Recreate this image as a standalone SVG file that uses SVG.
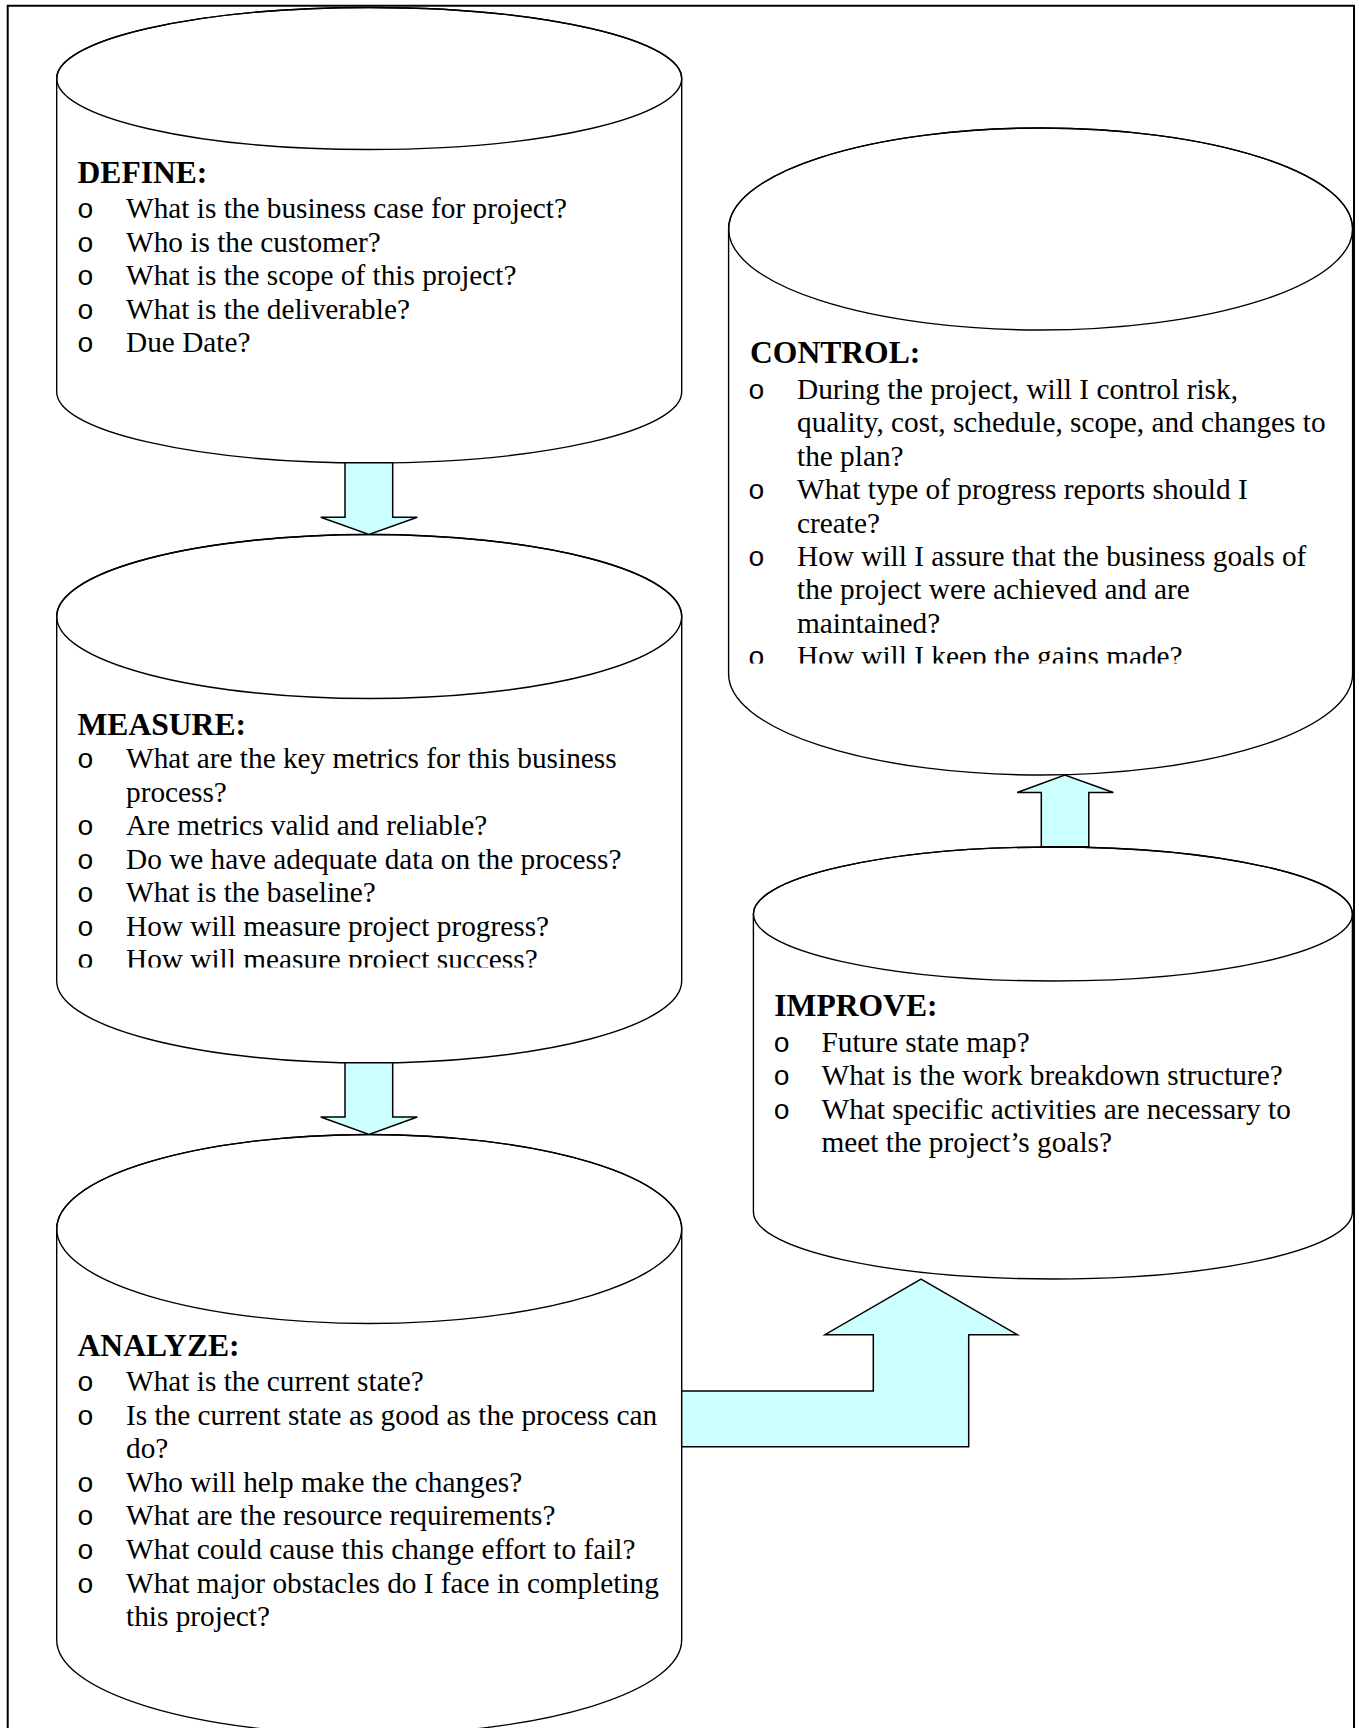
<svg xmlns="http://www.w3.org/2000/svg" width="1359" height="1728" viewBox="0 0 1359 1728">
  <style>
    .frame { fill: none; stroke: #000; stroke-width: 2; }
    .cyl { fill: #fff; stroke: #000; stroke-width: 1.4; }
    .lid { fill: none; stroke: #000; stroke-width: 1.4; }
    .arrow { fill: #ccffff; stroke: #000; stroke-width: 1.5; stroke-linejoin: miter; }
    .h { font-family: "Liberation Serif", "Times New Roman", serif; font-weight: bold; font-size: 31.6px; fill: #000; }
    .t { font-family: "Liberation Serif", "Times New Roman", serif; font-size: 29.3px; fill: #000; }
    .o { font-family: "Liberation Mono", "Courier New", monospace; font-size: 28px; fill: #000; }
  </style>
  <defs>
    <clipPath id="clipMeasure"><rect x="60" y="700" width="620" height="267.5"/></clipPath>
    <clipPath id="clipControl"><rect x="732" y="330" width="618" height="333.5"/></clipPath>
  </defs>

  <rect x="0" y="0" width="1359" height="1728" fill="#fff"/>
  <path class="frame" d="M7.7 1728 V5.7 H1354 V1728"/>

  <!-- DEFINE -->
  <g id="define">
    <path class="cyl" d="M56.7 78.5 L56.7 392 A312.5 71 0 0 0 681.7 392 L681.7 78.5 A312.5 71 0 0 0 56.7 78.5 Z"/>
    <ellipse class="lid" cx="369.2" cy="78.5" rx="312.5" ry="71"/>
    <text class="h" x="77.5" y="183">DEFINE:</text>
    <text class="o" x="77" y="218">o</text><text class="t" x="126" y="218">What is the business case for project?</text>
    <text class="o" x="77" y="251.5">o</text><text class="t" x="126" y="251.5">Who is the customer?</text>
    <text class="o" x="77" y="285">o</text><text class="t" x="126" y="285">What is the scope of this project?</text>
    <text class="o" x="77" y="318.5">o</text><text class="t" x="126" y="318.5">What is the deliverable?</text>
    <text class="o" x="77" y="352">o</text><text class="t" x="126" y="352">Due Date?</text>
  </g>

  <!-- MEASURE -->
  <g id="measure">
    <path class="cyl" d="M56.7 616.5 L56.7 981 A312.5 82 0 0 0 681.7 981 L681.7 616.5 A312.5 82 0 0 0 56.7 616.5 Z"/>
    <ellipse class="lid" cx="369.2" cy="616.5" rx="312.5" ry="82"/>
    <g clip-path="url(#clipMeasure)">
      <text class="h" x="77.5" y="734.6">MEASURE:</text>
      <text class="o" x="77" y="768">o</text><text class="t" x="126" y="768">What are the key metrics for this business</text>
      <text class="t" x="126" y="801.5">process?</text>
      <text class="o" x="77" y="835">o</text><text class="t" x="126" y="835">Are metrics valid and reliable?</text>
      <text class="o" x="77" y="868.5">o</text><text class="t" x="126" y="868.5">Do we have adequate data on the process?</text>
      <text class="o" x="77" y="902">o</text><text class="t" x="126" y="902">What is the baseline?</text>
      <text class="o" x="77" y="935.5">o</text><text class="t" x="126" y="935.5">How will measure project progress?</text>
      <text class="o" x="77" y="969">o</text><text class="t" x="126" y="969">How will measure project success?</text>
    </g>
  </g>

  <!-- ANALYZE -->
  <g id="analyze">
    <path class="cyl" d="M56.7 1229 L56.7 1640 A312.5 94.5 0 0 0 681.7 1640 L681.7 1229 A312.5 94.5 0 0 0 56.7 1229 Z"/>
    <ellipse class="lid" cx="369.2" cy="1229" rx="312.5" ry="94.5"/>
    <text class="h" x="77.5" y="1356">ANALYZE:</text>
    <text class="o" x="77" y="1391">o</text><text class="t" x="126" y="1391">What is the current state?</text>
    <text class="o" x="77" y="1424.6">o</text><text class="t" x="126" y="1424.6">Is the current state as good as the process can</text>
    <text class="t" x="126" y="1458.2">do?</text>
    <text class="o" x="77" y="1491.8">o</text><text class="t" x="126" y="1491.8">Who will help make the changes?</text>
    <text class="o" x="77" y="1525.4">o</text><text class="t" x="126" y="1525.4">What are the resource requirements?</text>
    <text class="o" x="77" y="1559">o</text><text class="t" x="126" y="1559">What could cause this change effort to fail?</text>
    <text class="o" x="77" y="1592.6">o</text><text class="t" x="126" y="1592.6">What major obstacles do I face in completing</text>
    <text class="t" x="126" y="1626.2">this project?</text>
  </g>

  <!-- IMPROVE -->
  <g id="improve">
    <path class="cyl" d="M753.4 914 L753.4 1212 A299.5 67 0 0 0 1352.4 1212 L1352.4 914 A299.5 67 0 0 0 753.4 914 Z"/>
    <ellipse class="lid" cx="1052.9" cy="914" rx="299.5" ry="67"/>
    <text class="h" x="774.3" y="1015.5">IMPROVE:</text>
    <text class="o" x="773.2" y="1051.5">o</text><text class="t" x="821.5" y="1051.5">Future state map?</text>
    <text class="o" x="773.2" y="1085">o</text><text class="t" x="821.5" y="1085">What is the work breakdown structure?</text>
    <text class="o" x="773.2" y="1118.5">o</text><text class="t" x="821.5" y="1118.5">What specific activities are necessary to</text>
    <text class="t" x="821.5" y="1152">meet the project’s goals?</text>
  </g>

  <!-- CONTROL -->
  <g id="control">
    <path class="cyl" d="M728.6 229 L728.6 674 A312 101 0 0 0 1352.6 674 L1352.6 229 A312 101 0 0 0 728.6 229 Z"/>
    <ellipse class="lid" cx="1040.6" cy="229" rx="312" ry="101"/>
    <g clip-path="url(#clipControl)">
      <text class="h" x="750" y="363.3">CONTROL:</text>
      <text class="o" x="747.9" y="399">o</text><text class="t" x="797" y="399">During the project, will I control risk,</text>
      <text class="t" x="797" y="432.4">quality, cost, schedule, scope, and changes to</text>
      <text class="t" x="797" y="465.8">the plan?</text>
      <text class="o" x="747.9" y="499.2">o</text><text class="t" x="797" y="499.2">What type of progress reports should I</text>
      <text class="t" x="797" y="532.6">create?</text>
      <text class="o" x="747.9" y="566">o</text><text class="t" x="797" y="566">How will I assure that the business goals of</text>
      <text class="t" x="797" y="599.4">the project were achieved and are</text>
      <text class="t" x="797" y="632.8">maintained?</text>
      <text class="o" x="747.9" y="666.2">o</text><text class="t" x="797" y="666.2">How will I keep the gains made?</text>
    </g>
  </g>

  <!-- block arrows between the phases -->
  <g id="connectors">
    <polygon class="arrow" points="345,462.7 392.7,462.7 392.7,517.3 417.3,517.3 369,534.5 320.7,517.3 345,517.3"/>
    <polygon class="arrow" points="345,1062.8 392.7,1062.8 392.7,1117 417.3,1117 369,1134.5 320.7,1117 345,1117"/>
    <polygon class="arrow" points="681.7,1391 873.3,1391 873.3,1334.7 825,1334.7 921,1279 1017.3,1334.7 968.7,1334.7 968.7,1446.7 681.7,1446.7"/>
    <polygon class="arrow" points="1041.3,846.8 1041.3,792.5 1017.2,792.5 1064.8,775 1113.4,792.5 1088.8,792.5 1088.8,846.8"/>
  </g>
</svg>
